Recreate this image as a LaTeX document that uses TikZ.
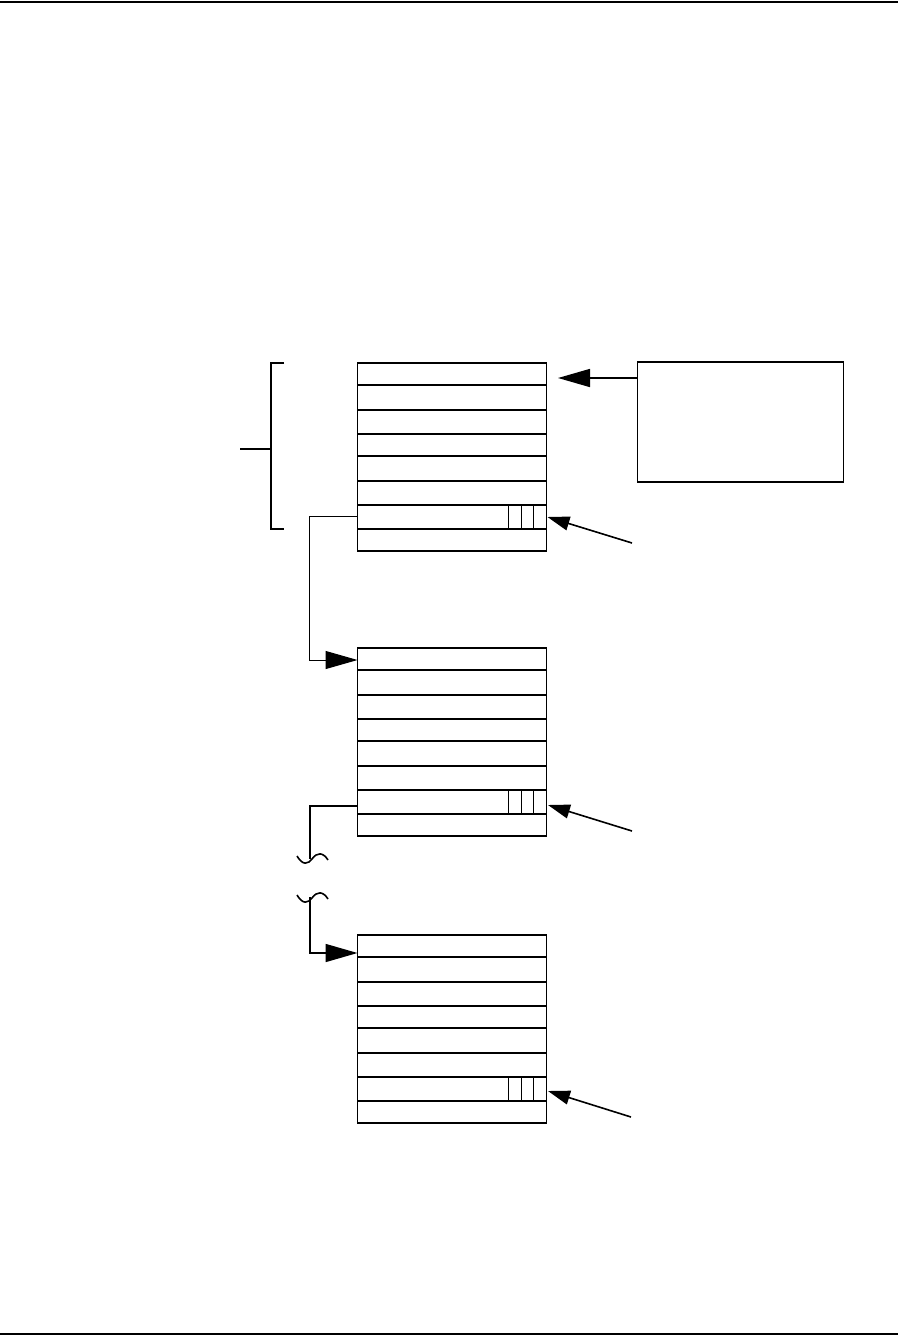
\documentclass[tikz,border=0pt]{standalone}
\usetikzlibrary{arrows.meta}
\tikzset{
  blk/.style={draw, line width=1.6pt, minimum width=189pt, minimum height=188pt, inner sep=0pt, outer sep=0pt, anchor=north west},
  rowline/.style={line width=1.6pt},
  cell/.style={line width=0.9pt},
  thick1/.style={line width=1.6pt},
  thinln/.style={line width=1.0pt},
  bigarrow/.style={-{Triangle[length=32pt,width=18pt]}},
  smallarrow/.style={-{Triangle[length=22pt,width=14pt]}},
  infobox/.style={draw, line width=1.6pt, minimum width=206pt, minimum height=120pt, inner sep=0pt, outer sep=0pt, anchor=north west},
}
\begin{document}
\begin{tikzpicture}[x=1pt,y=-1pt]
\useasboundingbox (0,0) rectangle (900,1336);
% page rules
\draw[line width=2pt] (0,1.5) -- (898,1.5);
\draw[line width=2pt] (0,1333.5) -- (898,1333.5);

% blocks
\foreach \n/\t in {b1/363, b2/648, b3/935}{
  \node[blk] (\n) at (357.5,\t) {};
  \foreach \r in {22,47,71,93,118,142,166}{
    \draw[rowline] (357.5,\t+\r) -- (546.5,\t+\r);
  }
  \foreach \c in {150.5,163.5,176}{
    \draw[cell] (357.5+\c,\t+142) -- (357.5+\c,\t+166);
  }
}

% info box and arrow
\node[infobox] (box) at (637.5,362) {};
\coordinate (t1) at (558,378);
\draw[thick1,bigarrow] (box.west |- t1) -- (t1);

% bracket
\coordinate (brt) at (284,363);
\coordinate (brb) at (284,529);
\coordinate (brm) at (240,449);
\draw[thick1] (brt) -- (271,363) -- (271,529) -- (brb);
\draw[thick1] (brm) -- (271,449);

% diagonal arrows
\coordinate (d1s) at (632,543);
\coordinate (d1e) at (547.5,517);
\coordinate (d2s) at (632,831);
\coordinate (d2e) at (548,805);
\coordinate (d3s) at (631,1117);
\coordinate (d3e) at (548,1091);
\draw[thick1,smallarrow] (d1s) -- (d1e);
\draw[thick1,smallarrow] (d2s) -- (d2e);
\draw[thick1,smallarrow] (d3s) -- (d3e);

% connector block1 -> block2
\coordinate (c1) at (357.5,516);
\coordinate (t2) at (357.5,660);
\draw[thinln,bigarrow] (c1) -- (309.5,516) |- (t2);

% connector block2 -> (break) -> block3
\coordinate (c2) at (357.5,806);
\coordinate (w1) at (310,859);
\coordinate (w2) at (310,897);
\coordinate (t3) at (357.5,953);
\draw[thick1] (c2) -- (310,806) -- (w1);
\draw[thick1] (297,856) .. controls (303,866) and (308,864) .. (312,859) .. controls (317,852) and (323,852) .. (328,860);
\draw[thick1] (297,895) .. controls (303,905) and (308,903) .. (312,898) .. controls (317,891) and (323,891) .. (328,899);
\draw[thick1,bigarrow] (w2) |- (t3);
\end{tikzpicture}
\end{document}
